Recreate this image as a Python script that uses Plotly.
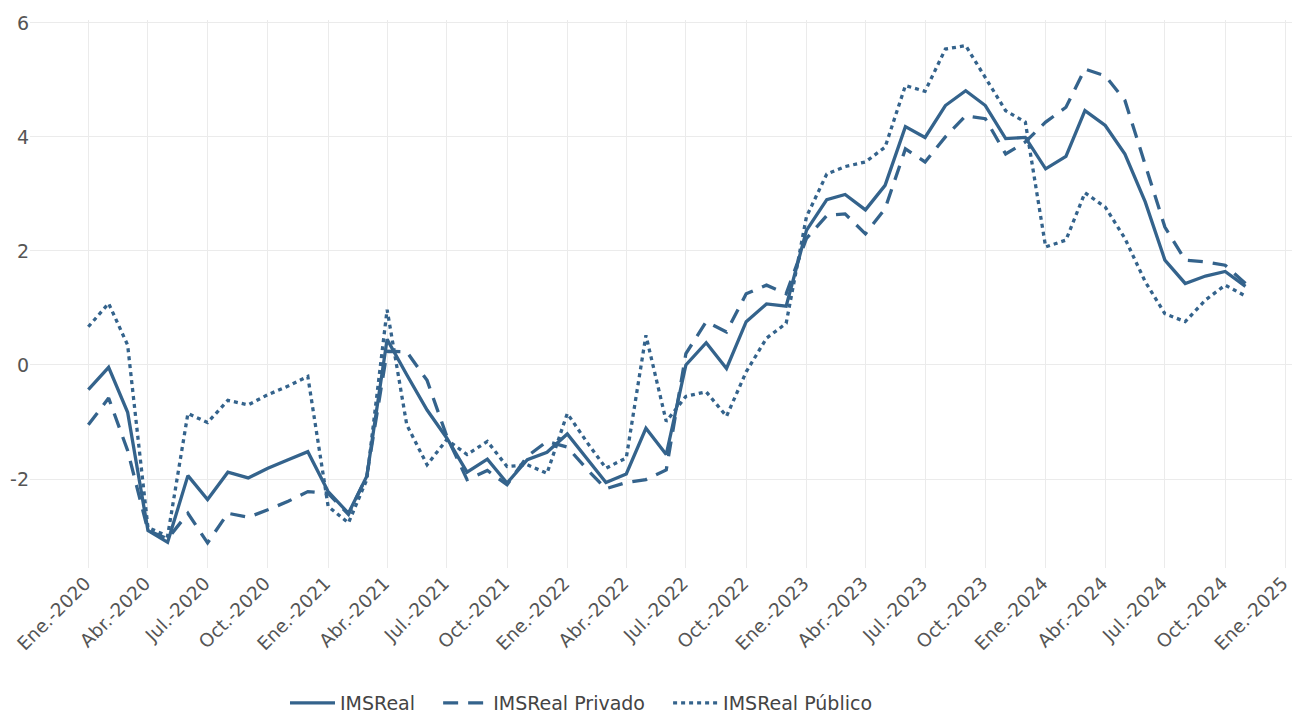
import pandas as pd
import plotly.graph_objects as go

fechas = pd.date_range("2020-01-01", "2024-11-01", freq="MS")

ims_real = [
    -0.43, -0.04, -0.83, -2.90, -3.11, -1.94, -2.36, -1.88, -1.98, -1.81, -1.66, -1.52,
    -2.22, -2.60, -1.95, 0.45, -0.17, -0.79, -1.28, -1.88, -1.65, -2.07, -1.66, -1.53,
    -1.21, -1.66, -2.06, -1.91, -1.11, -1.57, 0.00, 0.39, -0.06, 0.76, 1.07, 1.03,
    2.36, 2.90, 2.99, 2.72, 3.15, 4.18, 3.99, 4.55, 4.81, 4.55, 3.97, 3.99,
    3.44, 3.66, 4.46, 4.20, 3.70, 2.86, 1.84, 1.43, 1.56, 1.64, 1.38,
]
ims_privado = [
    -1.05, -0.58, -1.50, -2.90, -3.05, -2.60, -3.12, -2.60, -2.67, -2.54, -2.39, -2.22,
    -2.25, -2.62, -1.95, 0.24, 0.23, -0.27, -1.25, -2.01, -1.85, -2.10, -1.60, -1.34,
    -1.44, -1.84, -2.17, -2.06, -2.01, -1.84, 0.20, 0.76, 0.58, 1.25, 1.40, 1.25,
    2.22, 2.62, 2.65, 2.30, 2.74, 3.79, 3.56, 4.00, 4.37, 4.32, 3.70, 3.91,
    4.26, 4.52, 5.19, 5.07, 4.64, 3.53, 2.42, 1.84, 1.81, 1.75, 1.43,
]
ims_publico = [
    0.67, 1.08, 0.35, -2.85, -3.00, -0.85, -1.01, -0.62, -0.70, -0.52, -0.37, -0.20,
    -2.48, -2.77, -2.01, 0.97, -1.05, -1.75, -1.31, -1.57, -1.34, -1.78, -1.75, -1.90,
    -0.85, -1.37, -1.81, -1.63, 0.52, -0.99, -0.55, -0.47, -0.90, -0.12, 0.47, 0.73,
    2.60, 3.35, 3.48, 3.56, 3.82, 4.90, 4.80, 5.54, 5.60, 5.04, 4.46, 4.26,
    2.07, 2.19, 3.02, 2.77, 2.22, 1.46, 0.90, 0.76, 1.14, 1.40, 1.21,
]

tick_vals = pd.date_range("2020-01-01", "2025-01-01", freq="3MS")
meses = {1: "Ene.", 4: "Abr.", 7: "Jul.", 10: "Oct."}
tick_text = [f"{meses[d.month]}-{d.year}" for d in tick_vals]

y_tick_vals = [-2, 0, 2, 4, 6]
y_tick_text = ["-2", "0", "2", "4", "6"]

series_names = ["IMSReal", "IMSReal Privado", "IMSReal Público"]

color = "#34638c"
font_family = "Verdana, DejaVu Sans, sans-serif"
pad = "\u00a0\u00a0\u00a0"

fig = go.Figure()
fig.add_trace(go.Scatter(x=fechas, y=ims_real, mode="lines", name=series_names[0] + pad,
                         line=dict(color=color, width=3.3, dash="solid")))
fig.add_trace(go.Scatter(x=fechas, y=ims_privado, mode="lines", name=series_names[1] + pad,
                         line=dict(color=color, width=3.3, dash="15px,10px")))
fig.add_trace(go.Scatter(x=fechas, y=ims_publico, mode="lines", name=series_names[2],
                         line=dict(color=color, width=3.3, dash="4px,4px")))

fig.update_layout(
    width=1292, height=713,
    margin=dict(l=30, r=0, t=20, b=145, autoexpand=False),
    paper_bgcolor="white", plot_bgcolor="white",
    font=dict(family=font_family, size=19, color="#555555"),
    showlegend=True,
    legend=dict(orientation="h", x=0.437, xanchor="center",
                yref="container", y=0.014, yanchor="middle",
                font=dict(size=19, color="#444444"), itemwidth=45),
    xaxis=dict(
        range=["2019-10-04", "2025-01-11"],
        tickvals=tick_vals, ticktext=tick_text, tickangle=-45,
        tickfont=dict(size=18.5), ticklabelshift=-3,
        showgrid=True, gridcolor="#ebebeb", gridwidth=1.2,
        zeroline=False, showline=False, ticks="", automargin=False,
        ticklabeloverflow="allow",
    ),
    yaxis=dict(
        range=[-3.56, 6.05], tickvals=y_tick_vals, ticktext=y_tick_text,
        showgrid=True, gridcolor="#ebebeb", gridwidth=1.2,
        zeroline=False, showline=False, ticks="", automargin=False,
    ),
)

fig.write_html("out.html", config={"displayModeBar": False},
               post_script="document.body.style.margin='0px';document.body.style.overflow='hidden';")
